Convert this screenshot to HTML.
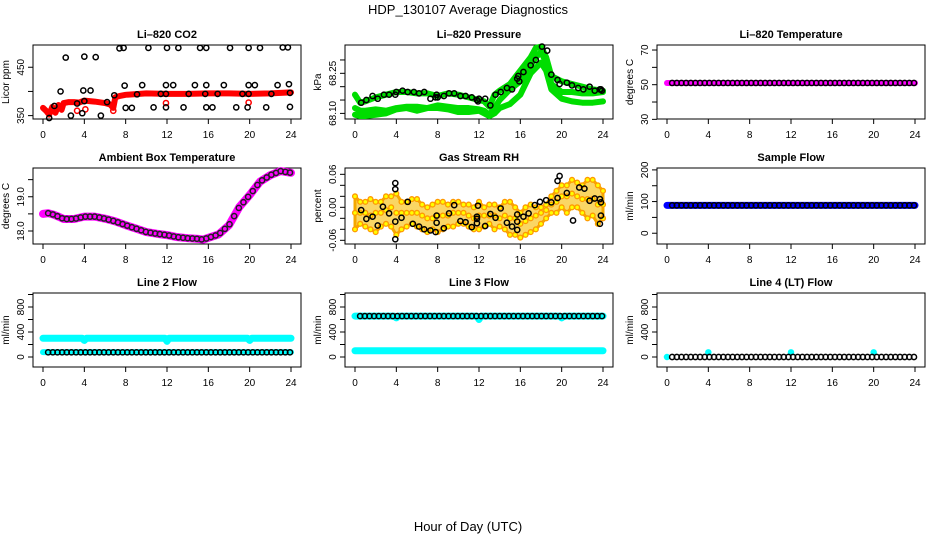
<!DOCTYPE html>
<html><head><meta charset="utf-8">
<style>
html,body{margin:0;padding:0;background:#fff;}
svg{display:block;font-family:"Liberation Sans",sans-serif;}
</style></head>
<body>
<svg id="chart" width="936" height="540" viewBox="0 0 936 540" xmlns="http://www.w3.org/2000/svg">
<text x="468" y="14" text-anchor="middle" font-size="13">HDP_130107  Average Diagnostics</text>
<text x="468" y="531" text-anchor="middle" font-size="13">Hour of Day (UTC)</text>
</svg>
<script>
// ---------- data ----------
const hours = [0.5,0.95,1.4,1.85,2.3,2.75,3.2,3.65,4.1,4.55,5,5.45,5.9,6.35,6.8,7.25,7.7,8.15,8.6,9.05,9.5,9.95,10.4,10.85,11.3,11.75,12.2,12.65,13.1,13.55,14,14.45,14.9,15.35,15.8,16.25,16.7,17.15,17.6,18.05,18.5,18.95,19.4,19.85,20.3,20.75,21.2,21.65,22.1,22.55,23,23.45,23.9];
const xTicks = [0,4,8,12,16,20,24];

// CO2
const co2RedT = [0,0.3,0.6,0.9,1.2,1.5,1.8,2,2.5,3,3.5,4,5,6,6.5,6.8,7,7.5,8,10,12,14,16,18,20,22,24];
const co2RedV = [366,360,352,368,356,372,362,376,378,378,377,381,379,376,373,366,388,391,393,396,395,395,396,396,395,396,398];
const co2RedPtT = [3.3,4.1,6.8,11.9,19.9];
const co2RedPtV = [360,363,360,376,377];
const co2BlkT = [0.6,1.1,1.7,2.2,2.7,3.3,3.8,3.9,4,4,4.6,5.1,5.6,6.2,6.9,7.4,7.8,7.9,8,8.6,9.1,9.6,10.2,10.7,11.4,11.9,11.9,11.9,12,12.6,13.1,13.6,14.1,14.7,15.2,15.7,15.8,15.8,15.8,16.4,16.9,17.5,18.1,18.7,19.3,19.8,19.9,19.9,19.9,20.5,21,21.6,22.1,22.7,23.2,23.7,23.8,23.9,23.9];
const co2BlkV = [345,370,400,470,350,375,355,402,380,472,402,471,350,378,392,489,490,412,366,366,394,413,490,367,395,367,395,413,490,413,490,367,395,413,490,395,413,367,490,367,395,413,490,367,395,367,395,413,490,413,490,367,395,413,491,491,415,397,368];

// Pressure
const presT = [0,0.5,1,2,3,4,5,6,7,8,9,10,11,12,12.5,13,13.5,14,15,16,17,17.5,18,18.5,19,20,21,22,23,24];
const presTop = [68.17,68.14,68.145,68.16,68.17,68.18,68.18,68.175,68.175,68.165,68.175,68.17,68.16,68.15,68.145,68.125,68.17,68.185,68.21,68.26,68.31,68.345,68.35,68.31,68.24,68.22,68.21,68.2,68.19,68.185];
const presMid = [68.12,68.11,68.11,68.115,68.11,68.12,68.125,68.125,68.12,68.13,68.125,68.12,68.12,68.115,68.11,68.095,68.12,68.15,68.19,68.22,68.28,68.31,68.33,68.29,68.21,68.18,68.18,68.175,68.175,68.18];
const presLow = [68.095,68.09,68.09,68.095,68.1,68.115,68.12,68.11,68.12,68.12,68.115,68.105,68.105,68.11,68.1,68.09,68.1,68.12,68.135,68.17,68.25,68.27,68.29,68.26,68.19,68.155,68.145,68.14,68.14,68.145];
const presBlkT = [0.6,1.1,1.7,2.2,2.8,3.3,3.9,4,4.6,5.1,5.7,6.2,6.7,7.3,7.8,7.9,8,8.6,9.1,9.6,10.2,10.7,11.3,11.8,11.9,12,12.6,13.1,13.6,14.1,14.7,15.2,15.7,15.8,15.9,16.3,17,17.5,18.1,18.6,19,19.6,19.8,20.5,21,21.6,22.1,22.7,23.2,23.7,23.8,23.9];
const presBlkV = [68.14,68.15,68.165,68.155,68.17,68.17,68.17,68.18,68.185,68.18,68.18,68.175,68.18,68.155,68.16,68.17,68.16,68.165,68.175,68.175,68.165,68.165,68.16,68.15,68.145,68.155,68.155,68.13,68.17,68.18,68.195,68.19,68.23,68.24,68.22,68.255,68.28,68.30,68.35,68.335,68.245,68.225,68.21,68.215,68.205,68.195,68.19,68.2,68.185,68.19,68.19,68.185];

// Li-820 temperature
const tempMagT = [0,24];
const tempMagV = [51,51];
const tempBlkV = [51,51,51,51,51,51,51,51,51,51,51,51,51,51,51,51,51,51,51,51,51,51,51,51,51,51,51,51,51,51,51,51,51,51,51,51,51,51,51,51,51,51,51,51,51,51,51,51,51,51,51,51,51];

// Ambient box temperature
const ambT = [0,0.5,1,1.5,2,3,4,5,6,7,8,9,10,11,12,13,14,15,15.5,16,17,18,19,20,21,22,23,24];
const ambV = [18.5,18.52,18.48,18.42,18.35,18.35,18.42,18.42,18.36,18.28,18.17,18.07,17.97,17.92,17.88,17.82,17.79,17.77,17.75,17.8,17.9,18.17,18.7,19.05,19.44,19.63,19.75,19.7];

// Gas stream RH
const rhT = [0,0.5,1,1.5,2,2.5,3,3.5,4,4.5,5,5.5,6,6.5,7,7.5,8,8.5,9,9.5,10,10.5,11,11.5,12,12.5,13,13.5,14,14.5,15,15.5,16,16.5,17,17.5,18,18.5,19,19.5,20,20.5,21,21.5,22,22.5,23,23.5,24];
const rhHigh = [0.02,0.01,0.01,0.015,0.01,0.01,0.02,0.02,0.025,0.01,0.01,0.015,0.015,0.005,0.0,0.005,0.01,0.01,0.005,0.01,0.01,0.005,0.005,0.0,0.01,0.0,0.005,0.005,0.0,0.01,0.01,0.0,-0.01,0.0,0.005,0.0,0.0,0.005,0.02,0.03,0.04,0.04,0.05,0.045,0.04,0.05,0.05,0.04,0.03];
const rhLow = [-0.04,-0.03,-0.035,-0.04,-0.045,-0.035,-0.03,-0.035,-0.05,-0.04,-0.035,-0.03,-0.035,-0.04,-0.045,-0.04,-0.045,-0.04,-0.035,-0.035,-0.03,-0.03,-0.035,-0.04,-0.04,-0.035,-0.03,-0.04,-0.035,-0.04,-0.05,-0.05,-0.055,-0.05,-0.045,-0.04,-0.03,-0.02,-0.01,-0.01,0.0,-0.01,0.0,0.0,-0.01,-0.02,-0.015,-0.03,-0.02];
const rhMid = [-0.01,-0.01,-0.01,-0.015,-0.01,-0.01,-0.005,0.0,-0.01,-0.01,-0.01,-0.01,-0.01,-0.015,-0.02,-0.02,-0.015,-0.015,-0.015,-0.01,-0.01,-0.01,-0.015,-0.02,-0.015,-0.015,-0.015,-0.015,-0.02,-0.015,-0.02,-0.02,-0.03,-0.025,-0.02,-0.015,-0.01,-0.005,0.005,0.01,0.02,0.02,0.025,0.02,0.015,0.015,0.015,0.005,0.005];
const rhBlkT = [0.6,1.1,1.7,2.2,2.7,3.3,3.9,3.9,3.9,3.9,4.5,5.1,5.6,6.2,6.7,7.3,7.8,7.9,7.9,8.6,9.1,9.6,10.2,10.7,11.3,11.8,11.8,11.8,11.9,12.6,13.1,13.6,14.1,14.7,15.2,15.7,15.7,15.7,16.3,16.8,17.4,17.9,18.5,19,19.6,19.6,19.8,20.5,21.1,21.7,22.2,22.7,23.2,23.7,23.7,23.8,23.8];
const rhBlkV = [-0.005,-0.021,-0.017,-0.033,0.001,-0.011,0.044,0.033,-0.026,-0.058,-0.019,0.010,-0.030,-0.035,-0.040,-0.042,-0.045,-0.015,-0.028,-0.038,-0.011,0.004,-0.025,-0.027,-0.036,-0.017,-0.021,-0.029,0.003,-0.034,-0.012,-0.019,-0.002,-0.028,-0.035,-0.026,-0.041,-0.013,-0.017,-0.011,0.004,0.010,0.013,0.009,0.048,0.017,0.057,0.026,-0.024,0.036,0.034,0.012,0.016,0.015,-0.030,-0.015,0.009];

// Sample flow
const sfBlueT = [0,24];
const sfBlueV = [88,88];
const sfBlkV = [88,88,88,88,88,88,88,88,88,88,88,88,88,88,88,88,88,88,88,88,88,88,88,88,88,88,88,88,88,88,88,88,88,88,88,88,88,88,88,88,88,88,88,88,88,88,88,88,88,88,88,88,88];

// Line 2 flow
const l2CyanT = [0,3.8,4,4.2,11.8,12,12.2,19.8,20,20.2,24];
const l2CyanV = [300,300,265,300,300,250,300,300,265,300,300];
const l2LowT = [0,24];
const l2LowV = [78,78];
const l2BlkV = [75,75,75,75,75,75,75,75,75,75,75,75,75,75,75,75,75,75,75,75,75,75,75,75,75,75,75,75,75,75,75,75,75,75,75,75,75,75,75,75,75,75,75,75,75,75,75,75,75,75,75,75,75];

// Line 3 flow
const l3UpT = [0,3.8,4,4.2,11.8,12,12.2,19.8,20,20.2,24];
const l3UpV = [655,655,625,655,655,600,655,655,625,655,655];
const l3LowT = [0,24];
const l3LowV = [100,100];
const l3BlkV = [655,655,655,655,655,655,655,655,655,655,655,655,655,655,655,655,655,655,655,655,655,655,655,655,655,655,655,655,655,655,655,655,655,655,655,655,655,655,655,655,655,655,655,655,655,655,655,655,655,655,655,655,655];

// Line 4 flow
const l4CyanT = [0,4,12,20];
const l4CyanV = [0,75,75,75];
const l4BlkV = [0,0,0,0,0,0,0,0,0,0,0,0,0,0,0,0,0,0,0,0,0,0,0,0,0,0,0,0,0,0,0,0,0,0,0,0,0,0,0,0,0,0,0,0,0,0,0,0,0,0,0,0,0];

const co2Ticks=[350,400,450], co2Labels=["350","","450"];
const presTicks=[68.10,68.15,68.20,68.25,68.30], presLabels=["68.10","","","68.25",""];
const tempTicks=[30,40,50,60,70], tempLabels=["30","","50","","70"];
const ambTicks=[18.0,18.5,19.0,19.5], ambLabels=["18.0","","19.0",""];
const rhTicks=[-0.06,-0.04,-0.02,0,0.02,0.04,0.06], rhLabels=["-0.06","","","0.00","","","0.06"];
const sfTicks=[0,50,100,150,200], sfLabels=["0","","100","","200"];
const lfTicks=[0,200,400,600,800,1000], lfLabels=["0","","400","","800",""];

// ---------- drawing ----------
const NS="http://www.w3.org/2000/svg";
const svg=document.getElementById('chart');
function mk(tag,attrs,parent){const e=document.createElementNS(NS,tag);for(const k in attrs)e.setAttribute(k,attrs[k]);(parent||svg).appendChild(e);return e;}

const cols=[{l:33,r:301},{l:345,r:613},{l:657,r:925}];
const rows=[{t:45,b:119},{t:168,b:244},{t:293,b:367}];

function panel(name,c,rw,ylo,yhi,title,ytitle,ticks,labels){
  const L=cols[c].l,R=cols[c].r,T=rows[rw].t,B=rows[rw].b;
  const g=mk('g',{});
  
  
  const p={g,sx:v=>L+10+(R-L-20)*v/24,sy:v=>B-(B-T)*(v-ylo)/(yhi-ylo),L,R,T,B};
  const box=mk('rect',{x:L,y:T,width:R-L,height:B-T,fill:'none',stroke:'#000','stroke-width':1},g);
  
  
  const tt=mk('text',{x:(L+R)/2,y:T-7,'text-anchor':'middle','font-size':11,'font-weight':'bold'},g);
  tt.textContent=title;
  
  
  const yt=mk('text',{transform:`translate(${L-24},${(T+B)/2}) rotate(-90)`,'text-anchor':'middle','font-size':10},g);
  yt.textContent=ytitle;
  
  
  const xa=mk('g',{},g);
  
  
  mk('line',{x1:p.sx(0),x2:p.sx(24),y1:B,y2:B,stroke:'#000'},xa);
  xTicks.forEach(v=>{
    mk('line',{x1:p.sx(v),x2:p.sx(v),y1:B,y2:B+5,stroke:'#000'},xa);
    const t=mk('text',{x:p.sx(v),y:B+19,'text-anchor':'middle','font-size':10},xa);t.textContent=v;
    
    
  });
  const ya=mk('g',{},g);
  
  
  mk('line',{x1:L,x2:L,y1:p.sy(ticks[0]),y2:p.sy(ticks[ticks.length-1]),stroke:'#000'},ya);
  ticks.forEach((v,i)=>{
    const y=p.sy(v);
    mk('line',{x1:L-5,x2:L,y1:y,y2:y,stroke:'#000'},ya);
    if(labels[i]){const t=mk('text',{transform:`translate(${L-9},${y}) rotate(-90)`,'text-anchor':'middle','font-size':10},ya);t.textContent=labels[i];
      
      }
  });
  return p;
}
function band(p,name,T,V,color,w){
  const pts=T.map((t,i)=>p.sx(t)+','+p.sy(V[i])).join(' ');
  const e=mk('polyline',{points:pts,fill:'none',stroke:color,'stroke-width':w||7,'stroke-linecap':'round','stroke-linejoin':'round'},p.g);
  
  
  return e;
}
function pts(p,name,T,V,stroke,fill,r,w){
  const g=mk('g',{},p.g);
  
  
  T.forEach((t,i)=>{mk('circle',{cx:p.sx(t),cy:p.sy(V[i]),r:r||2.6,fill:fill||'none',stroke:stroke,'stroke-width':w||1.5},g);});
}

// CO2
let p=panel('co2',0,0,343,496,'Li\u2013820 CO2','Licor ppm',co2Ticks,co2Labels);
band(p,'co2-red-series',co2RedT,co2RedV,'#ff0000',6);
pts(p,'co2-red-points',co2RedPtT,co2RedPtV,'#ff0000');
pts(p,'co2-black-points',co2BlkT,co2BlkV,'#000');

// Pressure
p=panel('pressure',1,0,68.079,68.356,'Li\u2013820 Pressure','kPa',presTicks,presLabels);
band(p,'pressure-green-low',presT,presLow,'#00dd00',6);
band(p,'pressure-green-mid',presT,presMid,'#00dd00',6);
band(p,'pressure-green-top',presT,presTop,'#00dd00',6);
pts(p,'pressure-black-points',presBlkT,presBlkV,'#000');

// Li-820 temperature
p=panel('li820-temp',2,0,30.2,72.9,'Li\u2013820 Temperature','degrees C',tempTicks,tempLabels);
band(p,'li820-temp-magenta',tempMagT,tempMagV,'#ff00ff',6);
pts(p,'li820-temp-black-points',hours,tempBlkV,'#000');

// Ambient
p=panel('ambient-temp',0,1,17.62,19.84,'Ambient Box Temperature','degrees C',ambTicks,ambLabels);
band(p,'ambient-magenta',ambT,ambV,'#ff00ff',8);
pts(p,'ambient-black-points',hours,hours.map(h=>{let i=0;while(i<ambT.length-2&&ambT[i+1]<h)i++;const f=(h-ambT[i])/(ambT[i+1]-ambT[i]);return ambV[i]+f*(ambV[i+1]-ambV[i]);}),'#222');

// RH
p=panel('gas-rh',1,1,-0.0667,0.0715,'Gas Stream RH','percent',rhTicks,rhLabels);
(function(){
  const poly=rhT.map((t,i)=>p.sx(t)+','+p.sy(rhHigh[i])).concat(rhT.slice().reverse().map((t,j)=>{const i=rhT.length-1-j;return p.sx(t)+','+p.sy(rhLow[i]);})).join(' ');
  const e=mk('polygon',{points:poly,fill:'#f8c830','fill-opacity':0.75,stroke:'#f5a800','stroke-width':3,'stroke-linejoin':'round'},p.g);
  
  
})();
pts(p,'rh-orange-high',rhT,rhHigh,'#ff9900','#ffff00',2.4,1.3);
pts(p,'rh-orange-low',rhT,rhLow,'#ff9900','#ffff00',2.4,1.3);
pts(p,'rh-orange-mid',rhT,rhMid,'#ff9900','#ffff00',2.4,1.3);
pts(p,'rh-black-points',rhBlkT,rhBlkV,'#000');

// Sample flow
p=panel('sample-flow',2,1,-34,206,'Sample Flow','ml/min',sfTicks,sfLabels);
band(p,'sample-flow-blue',sfBlueT,sfBlueV,'#0000ff',7);
pts(p,'sample-flow-black-points',hours,sfBlkV,'#000');

// Line 2
p=panel('line2-flow',0,2,-160,1024,'Line 2 Flow','ml/min',lfTicks,lfLabels);
band(p,'line2-cyan-upper',l2CyanT,l2CyanV,'#00ffff',7);
band(p,'line2-cyan-lower',l2LowT,l2LowV,'#00ffff',6);
pts(p,'line2-black-points',hours,l2BlkV,'#000');

// Line 3
p=panel('line3-flow',1,2,-160,1024,'Line 3 Flow','ml/min',lfTicks,lfLabels);
band(p,'line3-cyan-upper',l3UpT,l3UpV,'#00ffff',7);
band(p,'line3-cyan-lower',l3LowT,l3LowV,'#00ffff',7);
pts(p,'line3-black-points',hours,l3BlkV,'#000');

// Line 4
p=panel('line4-flow',2,2,-160,1024,'Line 4 (LT) Flow','ml/min',lfTicks,lfLabels);
pts(p,'line4-cyan-points',l4CyanT,l4CyanV,'#00ffff','#00ffff',2.5,1.5);
pts(p,'line4-black-points',hours,l4BlkV,'#000');
</script>
</body></html>
